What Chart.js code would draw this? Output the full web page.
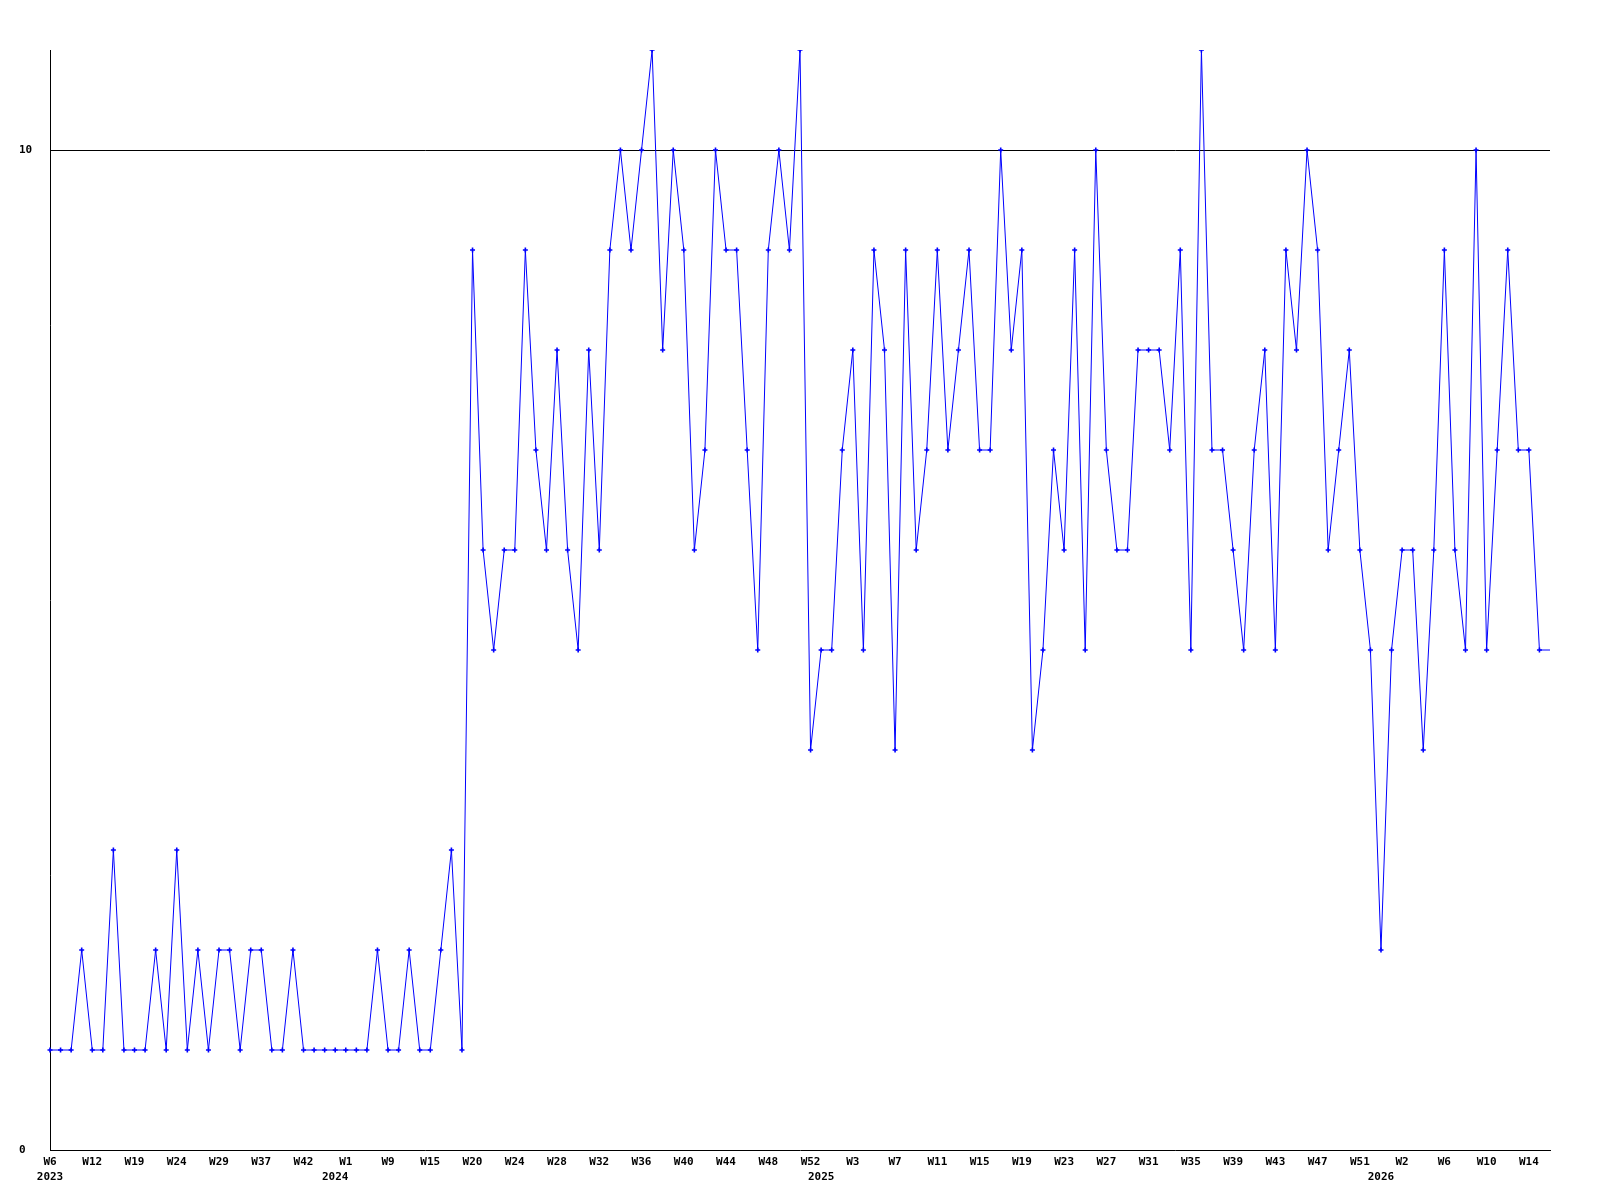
<!DOCTYPE html>
<html>
<head>
<meta charset="utf-8">
<title>Weekly count</title>
<script src="https://cdn.jsdelivr.net/npm/chart.js@4.4.1/dist/chart.umd.min.js"></script>
<style>
    html, body {
        margin: 0;
        padding: 0;
        background: #ffffff;
    }
    .chart-box {
        position: relative;
        width: 1600px;
        height: 1200px;
    }
</style>
</head>
<body>
<div class="chart-box">
    <canvas id="weeklyChart"></canvas>
</div>
<script>
// ==========================================
// DATA
// ==========================================

// helper for the runs of consecutive weeks
function weekRange(year, from, to) {
    const out = [];
    for (let w = from; w <= to; w++) out.push(year + '-W' + w);
    return out;
}

// one entry per point, "year-week"
const categories = [
    '2023-W6', '2023-W8', '2023-W10', '2023-W11', '2023-W12', '2023-W14', '2023-W16',
    '2023-W18', '2023-W19', '2023-W20', '2023-W22', '2023-W23', '2023-W24', '2023-W25',
    '2023-W27', '2023-W28', '2023-W29', '2023-W31', '2023-W33', '2023-W35', '2023-W37',
    '2023-W38', '2023-W40', '2023-W41', '2023-W42', '2023-W45', '2023-W49',
    '2024-W0', '2024-W1', '2024-W3', '2024-W5', '2024-W7', '2024-W9', '2024-W10',
    '2024-W12', '2024-W14', '2024-W15', '2024-W16', '2024-W17', '2024-W19', '2024-W20'
].concat(weekRange(2024, 21, 52), weekRange(2025, 0, 52), weekRange(2026, 0, 16));

const values = [
    1, 1, 1, 2, 1, 1, 3, 1, 1, 1,
    2, 1, 3, 1, 2, 1, 2, 2, 1, 2,
    2, 1, 1, 2, 1, 1, 1, 1, 1, 1,
    1, 2, 1, 1, 2, 1, 1, 2, 3, 1,
    9, 6, 5, 6, 6, 9, 7, 6, 8, 6,
    5, 8, 6, 9, 10, 9, 10, 11, 8, 10,
    9, 6, 7, 10, 9, 9, 7, 5, 9, 10,
    9, 11, 4, 5, 5, 7, 8, 5, 9, 8,
    4, 9, 6, 7, 9, 7, 8, 9, 7, 7,
    10, 8, 9, 4, 5, 7, 6, 9, 5, 10,
    7, 6, 6, 8, 8, 8, 7, 9, 5, 11,
    7, 7, 6, 5, 7, 8, 5, 9, 8, 10,
    9, 6, 7, 8, 6, 5, 2, 5, 6, 6,
    4, 6, 9, 6, 5, 10, 5, 7, 9, 7,
    7, 5, 5
];

const yTickValues = [0, 10];
const yMin = 0;
const yMax = 11;
const labelEvery = 4;

// ==========================================
// CHART
// ==========================================
const FONT = { family: '"DejaVu Sans Mono", monospace', size: 11, weight: 'bold', lineHeight: '15px' };

function xTickLabel(value, index) {
    const parts = categories[index].split('-');
    const prevYear = index > 0 ? categories[index - 1].split('-')[0] : null;
    const weekText = index % labelEvery === 0 ? parts[1] : '';
    if (parts[0] !== prevYear) return [weekText, parts[0]];
    return weekText;
}

const ctx = document.getElementById('weeklyChart');
new Chart(ctx, {
    type: 'line',
    data: {
        labels: categories,
        datasets: [{
            data: values,
            borderColor: '#0000ff',
            backgroundColor: '#0000ff',
            borderWidth: 1,
            tension: 0,
            fill: false,
            pointStyle: 'cross',
            pointBorderWidth: 1.6,
            // the last value only carries the line to the edge
            pointRadius: c => c.dataIndex === values.length - 1 ? 0 : 2.5,
            pointHoverRadius: 0
        }]
    },
    options: {
        responsive: true,
        maintainAspectRatio: false,
        animation: false,
        layout: {
            padding: { top: 50, right: 50, bottom: 0, left: 19 }
        },
        plugins: {
            legend: { display: false },
            tooltip: { enabled: false }
        },
        scales: {
            x: {
                type: 'category',
                offset: false,
                grid: { display: false, drawTicks: false },
                border: { display: true, color: '#000000', width: 1 },
                ticks: {
                    autoSkip: false,
                    maxRotation: 0,
                    minRotation: 0,
                    padding: 5,
                    color: '#000000',
                    font: FONT,
                    callback: xTickLabel
                },
                afterFit: function(axis) {
                    axis.height = 50;
                    axis.paddingLeft = 0;
                    axis.paddingRight = 0;
                }
            },
            y: {
                min: yMin,
                max: yMax,
                grid: {
                    drawTicks: false,
                    color: c => c.tick && c.tick.value === 10 ? '#000000' : 'rgba(0,0,0,0)',
                    lineWidth: 1
                },
                border: { display: true, color: '#000000', width: 1 },
                ticks: {
                    crossAlign: 'far',
                    padding: 0,
                    color: '#000000',
                    font: FONT
                },
                afterBuildTicks: function(axis) {
                    axis.ticks = yTickValues.map(v => ({ value: v }));
                },
                afterFit: function(axis) {
                    axis.width = 31;
                }
            }
        }
    }
});
</script>
</body>
</html>
